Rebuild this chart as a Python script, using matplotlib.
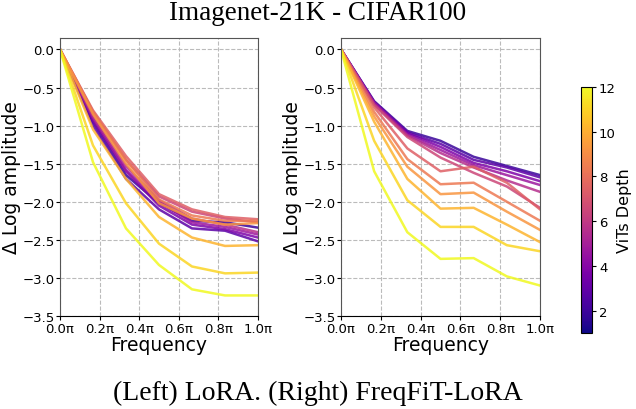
import numpy as np
import matplotlib
matplotlib.use("Agg")
import matplotlib.pyplot as plt
from matplotlib import cm, colors

freqs = [0, 1/6, 2/6, 3/6, 4/6, 5/6, 1]
depths = list(range(1, 13))

lora = [
    [0, -0.95, -1.65, -2.02, -2.25, -2.27, -2.34],
    [0, -1.00, -1.70, -2.10, -2.35, -2.38, -2.52],
    [0, -0.93, -1.60, -2.05, -2.30, -2.36, -2.47],
    [0, -0.90, -1.58, -2.00, -2.27, -2.33, -2.43],
    [0, -0.88, -1.53, -1.98, -2.22, -2.30, -2.40],
    [0, -0.82, -1.45, -1.93, -2.13, -2.22, -2.27],
    [0, -0.80, -1.40, -1.90, -2.10, -2.20, -2.23],
    [0, -0.82, -1.45, -1.97, -2.18, -2.25, -2.25],
    [0, -0.85, -1.50, -2.02, -2.22, -2.30, -2.28],
    [0, -1.05, -1.70, -2.20, -2.47, -2.58, -2.57],
    [0, -1.26, -2.02, -2.55, -2.85, -2.94, -2.93],
    [0, -1.48, -2.35, -2.83, -3.15, -3.23, -3.23],
]

freqfit = [
    [0, -0.68, -1.07, -1.20, -1.41, -1.53, -1.65],
    [0, -0.69, -1.09, -1.24, -1.45, -1.55, -1.68],
    [0, -0.70, -1.10, -1.28, -1.49, -1.60, -1.73],
    [0, -0.70, -1.12, -1.32, -1.52, -1.65, -1.78],
    [0, -0.72, -1.13, -1.36, -1.55, -1.72, -1.87],
    [0, -0.73, -1.15, -1.42, -1.62, -1.80, -2.08],
    [0, -0.76, -1.30, -1.60, -1.54, -1.75, -2.10],
    [0, -0.82, -1.44, -1.77, -1.75, -2.00, -2.25],
    [0, -0.88, -1.54, -1.90, -1.88, -2.13, -2.37],
    [0, -0.95, -1.70, -2.09, -2.08, -2.30, -2.53],
    [0, -1.20, -1.98, -2.33, -2.33, -2.57, -2.65],
    [0, -1.60, -2.40, -2.75, -2.74, -2.98, -3.10],
]

xticks = [0, 0.2, 0.4, 0.6, 0.8, 1.0]
xticklabels = ['%.1fπ' % t for t in xticks]

cmap = cm.plasma
norm = colors.Normalize(vmin=1, vmax=12)

fig = plt.figure(figsize=(6.36, 4.10), dpi=100)
ax1 = fig.add_axes([60/636, 1-317/410, 198/636, 278/410])
ax2 = fig.add_axes([341/636, 1-317/410, 199/636, 278/410])
cax = fig.add_axes([581/636, 1-334/410, 11/636, 246/410])

for ax, data in [(ax1, lora), (ax2, freqfit)]:
    for d, ys in zip(depths, data):
        ax.plot(freqs, ys, color=cmap(d / 12), lw=1.8, alpha=0.85)
    ax.set_xlim(0, 1)
    ax.set_ylim(-3.5, 0.15)
    ax.set_xticks(xticks)
    ax.set_xticklabels(xticklabels)
    ax.set_yticks(np.arange(-3.5, 0.01, 0.5))
    ax.tick_params(labelsize=9.5, pad=1, length=3)
    ax.grid(True, ls='--', color='#bbbbbb', lw=0.8)
    ax.set_xlabel('Frequency', fontsize=13.5, labelpad=0)
    ax.set_ylabel('Δ Log amplitude', fontsize=13.5, labelpad=1)
    for s in ['left', 'right', 'top']:
        ax.spines[s].set_color('#555555')

sm = cm.ScalarMappable(norm=norm, cmap=cmap)
cb = fig.colorbar(sm, cax=cax)
cb.set_ticks([2, 4, 6, 8, 10, 12])
cb.ax.tick_params(labelsize=9.5, length=3, pad=2)
cb.set_label('ViTs Depth', fontsize=11.5, labelpad=1)

fig.text(0.5, 0.968, 'Imagenet-21K - CIFAR100', ha='center', va='center',
         family='Liberation Serif', fontsize=19.5)
fig.text(0.5, 0.04, '(Left) LoRA. (Right) FreqFiT-LoRA', ha='center', va='center',
         family='Liberation Serif', fontsize=20)

fig.savefig('out.png', dpi=100)
